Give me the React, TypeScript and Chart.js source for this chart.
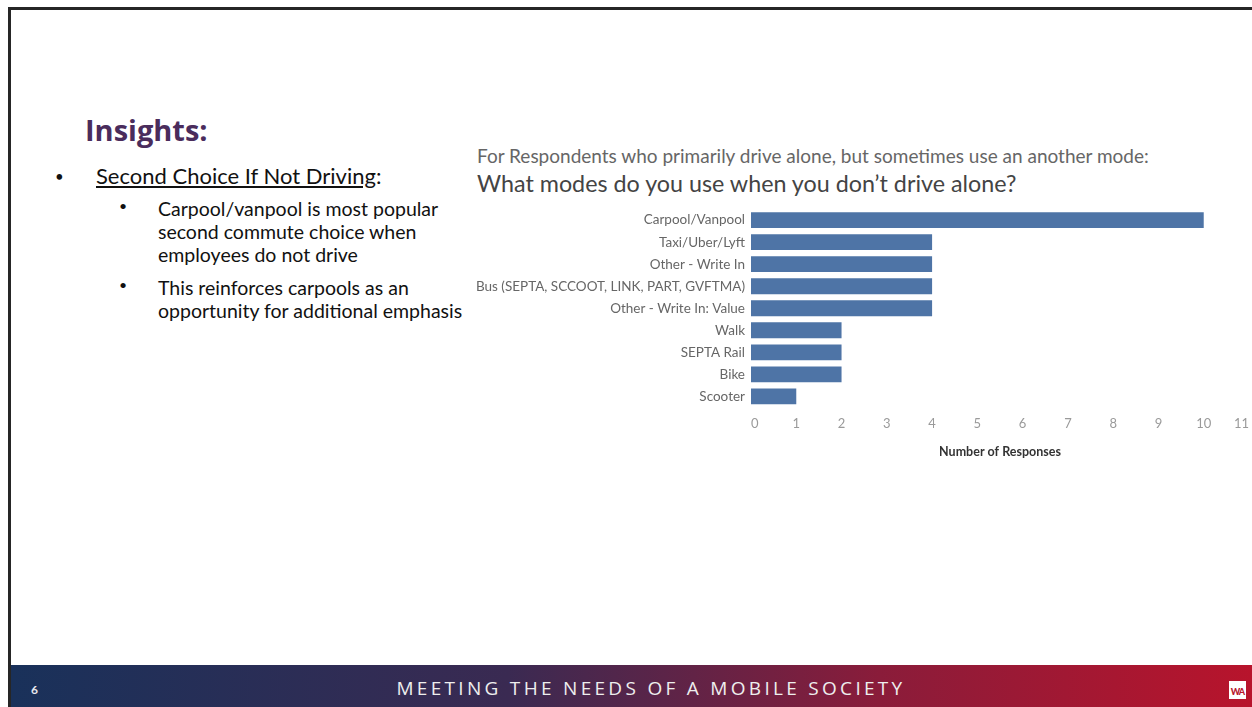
import React, { useEffect, useRef } from "react";
import { Chart, registerables } from "chart.js";

Chart.register(...registerables);

const categories: string[] = [
  "Carpool/Vanpool",
  "Taxi/Uber/Lyft",
  "Other - Write In",
  "Bus (SEPTA, SCCOOT, LINK, PART, GVFTMA)",
  "Other - Write In: Value",
  "Walk",
  "SEPTA Rail",
  "Bike",
  "Scooter",
];
const responses: number[] = [10, 4, 4, 4, 4, 2, 2, 2, 1];
const xMin = 0;
const xMax = 11;
const xTitle = "Number of Responses";
const subTitle = "For Respondents who primarily drive alone, but sometimes use an another mode:";
const mainTitle = "What modes do you use when you don\u2019t drive alone?";

function BarChart() {
  const ref = useRef<HTMLCanvasElement | null>(null);
  useEffect(() => {
    if (!ref.current) return;
    const chart = new Chart(ref.current, {
      type: "bar",
      data: {
        labels: categories,
        datasets: [
          {
            data: responses,
            backgroundColor: "#4e74a6",
            barPercentage: 1,
            categoryPercentage: 0.72,
          },
        ],
      },
      options: {
        indexAxis: "y",
        animation: false,
        responsive: false,
        maintainAspectRatio: false,
        layout: { padding: { left: 0, right: 0, top: 0, bottom: 0 } },
        plugins: { legend: { display: false }, tooltip: { enabled: false } },
        scales: {
          x: {
            min: xMin,
            max: xMax,
            grid: { display: false, drawTicks: false },
            border: { display: false },
            ticks: {
              stepSize: 1,
              align: "inner",
              color: "#9a9a9a",
              padding: 9,
              font: { family: "Lato", size: 13 },
            },
            title: {
              display: true,
              text: xTitle,
              color: "#333",
              font: { family: "Lato", size: 12.5, weight: "bold" },
              padding: { top: 3, bottom: 0 },
            },
          },
          y: {
            grid: { display: false, drawTicks: false },
            border: { display: false },
            ticks: {
              color: "#666",
              padding: 6,
              font: { family: "Lato", size: 13.5 },
            },
            afterFit: (scale: any) => {
              scale.width = 281;
            },
          },
        },
      },
    });
    return () => chart.destroy();
  }, []);
  return <canvas ref={ref} width={788} height={264} style={{ position: "absolute", left: 470, top: 195 }} />;
}

const bodyFont = "Lato, sans-serif";

export default function App() {
  return (
    <div style={{ position: "absolute", left: 0, top: 0, width: 1252, height: 707, overflow: "hidden", background: "#fff", fontFamily: bodyFont }}>
      <div style={{ position: "absolute", left: 8, top: 7, width: 1244, height: 3, background: "#262626" }} />
      <div style={{ position: "absolute", left: 8, top: 7, width: 3, height: 700, background: "#262626" }} />
      <div style={{ position: "absolute", left: 85, top: 110, fontSize: 29, fontWeight: 700, color: "#4a2c5c", fontFamily: "'Open Sans', sans-serif" }}>Insights:</div>
      <div style={{ position: "absolute", left: 55, top: 167, fontSize: 15, color: "#111" }}>•</div>
      <div style={{ position: "absolute", left: 96, top: 162, fontSize: 22, color: "#111", fontFamily: bodyFont, whiteSpace: "nowrap" }}>
        <span style={{ textDecoration: "underline" }}>Second Choice If Not Driving</span>:
      </div>
      <div style={{ position: "absolute", left: 119, top: 197, fontSize: 14, color: "#111" }}>•</div>
      <div style={{ position: "absolute", left: 158, top: 197, fontSize: 19.5, lineHeight: "23px", color: "#111", fontFamily: bodyFont, whiteSpace: "nowrap" }}>
        Carpool/vanpool is most popular<br />second commute choice when<br />employees do not drive
      </div>
      <div style={{ position: "absolute", left: 119, top: 276, fontSize: 14, color: "#111" }}>•</div>
      <div style={{ position: "absolute", left: 158, top: 276, fontSize: 19.5, lineHeight: "23px", color: "#111", fontFamily: bodyFont, whiteSpace: "nowrap" }}>
        This reinforces carpools as an<br />opportunity for additional emphasis
      </div>
      <div style={{ position: "absolute", left: 477, top: 144, fontSize: 19, color: "#666", fontFamily: bodyFont, whiteSpace: "nowrap" }}>{subTitle}</div>
      <div style={{ position: "absolute", left: 477, top: 169, fontSize: 23.3, color: "#444", fontFamily: bodyFont, whiteSpace: "nowrap" }}>{mainTitle}</div>
      <BarChart />
      <div style={{ position: "absolute", left: 11, top: 665, width: 1241, height: 42, background: "linear-gradient(to right, #19315a 0%, #3a2a52 40%, #8a1c3a 70%, #b8142c 100%)" }}>
        <div style={{ position: "absolute", left: 20, top: 17, fontSize: 12, fontWeight: 700, color: "#e8e8ee" }}>6</div>
        <div style={{ position: "absolute", left: 0, width: 1280, top: 10, textAlign: "center", fontSize: 19, letterSpacing: 3.3, color: "#eeeeee", fontFamily: "'Open Sans', sans-serif", whiteSpace: "nowrap" }}>MEETING THE NEEDS OF A MOBILE SOCIETY</div>
        <div style={{ position: "absolute", left: 1218, top: 16, width: 17, height: 18, background: "#fff", color: "#b8142c", fontSize: 9, fontWeight: 900, textAlign: "center", lineHeight: "22px", letterSpacing: -1 }}>WA</div>
      </div>
    </div>
  );
}
